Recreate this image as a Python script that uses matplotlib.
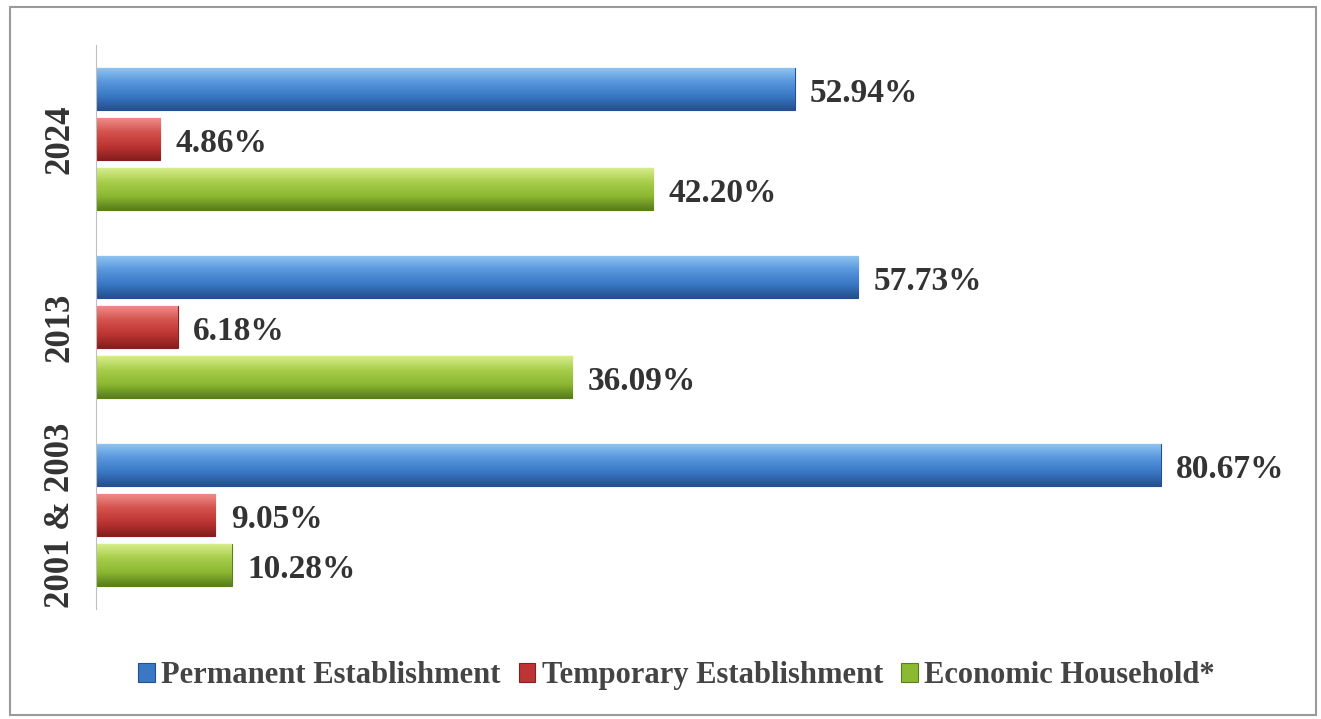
import numpy as np
import matplotlib.pyplot as plt
from matplotlib.colors import LinearSegmentedColormap
from matplotlib.patches import Rectangle

# data
periods = ["2001 & 2003", "2013", "2024"]
series = ["Permanent Establishment", "Temporary Establishment", "Economic Household*"]
permanent = [80.67, 57.73, 52.94]
temporary = [9.05, 6.18, 4.86]
household = [10.28, 36.09, 42.20]

# dark bottom -> main -> light top, to fake the 3d look of the original
shades = [
    ["#24508f", "#3a78c6", "#5796dc", "#8cc3f0"],
    ["#861f1d", "#bd3533", "#d4524d", "#ee8a86"],
    ["#587f1b", "#8cb832", "#a7cd4a", "#d6ec8a"],
]
base = ["#3a78c6", "#bd3533", "#8cb832"]

plt.rcParams['font.family'] = ['Liberation Serif', 'DejaVu Serif']

fig = plt.figure(figsize=(13.21, 7.19), dpi=100)
fig.patches.append(Rectangle((10 / 1321, 4 / 719), 1306 / 1321, 708 / 719,
                             transform=fig.transFigure, fill=False,
                             edgecolor="#9a9a9a", linewidth=1.5))
ax = fig.add_axes([96 / 1321, 1 - 609 / 719, 1200 / 1321, 564 / 719])

y = np.arange(len(periods))
pitch = 0.266
height = 0.222
values = [permanent, temporary, household]

for i, (vals, name) in enumerate(zip(values, series)):
    offs = (1 - i) * pitch
    bars = ax.barh(y + offs, vals, height=height, color=base[i],
                   edgecolor=shades[i][0], linewidth=0.8, label=name, zorder=2)
    cmap = LinearSegmentedColormap.from_list("g%d" % i, shades[i])
    grad = np.linspace(0, 1, 64).reshape(-1, 1)
    for b in bars:
        x0, y0 = b.get_x(), b.get_y()
        w, h = b.get_width(), b.get_height()
        im = ax.imshow(grad, cmap=cmap, aspect="auto", origin="lower",
                       extent=(x0, x0 + w, y0, y0 + h), zorder=2.5)
        im.set_clip_path(b)
        ax.annotate("%.2f%%" % w, (w, y0 + h / 2), xytext=(11, -3),
                    textcoords="offset points", va="center", ha="left",
                    fontsize=24, fontweight="bold", color="#333333")

ax.set_xlim(0, 1200 / 13.2)
ax.set_ylim(-0.5, 2.5)
ax.set_yticks(y)
ax.set_yticklabels(periods, rotation=90, va="center", fontsize=25,
                   fontweight="bold", color="#333333")
ax.tick_params(axis="y", length=0, pad=14)
ax.set_xticks([])
for s in ["top", "right", "bottom"]:
    ax.spines[s].set_visible(False)
ax.spines["left"].set_color("#bfbfbf")

handles, labels = ax.get_legend_handles_labels()
fig.legend(handles, labels, loc="center", bbox_to_anchor=(0.512, 0.06),
           ncol=3, frameon=False, handlelength=0.55, handleheight=0.6,
           handletextpad=0.2, columnspacing=0.6,
           prop={"size": 22, "weight": "bold"}, labelcolor="#444444")

fig.savefig("out.png", dpi=100)
